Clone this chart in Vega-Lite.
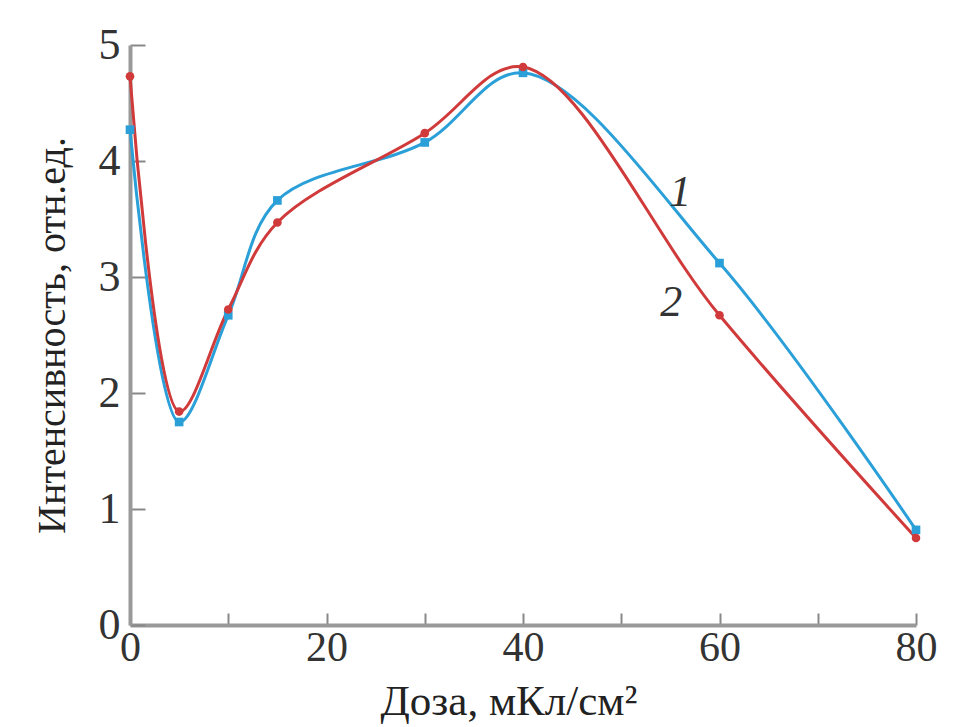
{
  "$schema": "https://vega.github.io/schema/vega-lite/v6.json",
  "width": 786,
  "height": 580,
  "autosize": "none",
  "padding": {"left": 130, "top": 45, "right": 37, "bottom": 102},
  "background": "white",
  "config": {
    "view": {"stroke": null},
    "font": "Liberation Serif"
  },
  "datasets": {
    "series": [
      {"dose": 0, "val": 4.27, "s": "1"},
      {"dose": 5, "val": 1.75, "s": "1"},
      {"dose": 10, "val": 2.67, "s": "1"},
      {"dose": 15, "val": 3.66, "s": "1"},
      {"dose": 30, "val": 4.16, "s": "1"},
      {"dose": 40, "val": 4.76, "s": "1"},
      {"dose": 60, "val": 3.12, "s": "1"},
      {"dose": 80, "val": 0.82, "s": "1"},
      {"dose": 0, "val": 4.73, "s": "2"},
      {"dose": 5, "val": 1.84, "s": "2"},
      {"dose": 10, "val": 2.72, "s": "2"},
      {"dose": 15, "val": 3.47, "s": "2"},
      {"dose": 30, "val": 4.24, "s": "2"},
      {"dose": 40, "val": 4.81, "s": "2"},
      {"dose": 60, "val": 2.67, "s": "2"},
      {"dose": 80, "val": 0.75, "s": "2"}
    ],
    "labels": [
      {"dose": 56, "val": 3.72, "t": "1"},
      {"dose": 55.1, "val": 2.78, "t": "2"}
    ]
  },
  "layer": [
    {
      "data": {"name": "series"},
      "mark": {"type": "line", "interpolate": "catmull-rom", "strokeWidth": 3},
      "encoding": {
        "x": {
          "field": "dose", "type": "quantitative",
          "scale": {"domain": [0, 80], "nice": false},
          "axis": {
            "title": "Доза, мКл/см²",
            "values": [0, 10, 20, 30, 40, 50, 60, 70, 80],
            "labelExpr": "datum.value % 20 === 0 ? datum.label : ''",
            "labelFlush": false,
            "grid": false,
            "domainColor": "#999", "domainWidth": 4,
            "tickColor": "#888", "tickWidth": 2, "tickSize": -12,
            "labelFont": "Liberation Serif", "labelFontSize": 42, "labelColor": "#333",
            "labelPadding": 14,
            "titleFont": "Liberation Serif", "titleFontSize": 43, "titleFontWeight": "normal", "titleColor": "#222",
            "titlePadding": 12,
            "titleX": 250,
            "titleAlign": "left"
          }
        },
        "y": {
          "field": "val", "type": "quantitative",
          "scale": {"domain": [0, 5], "nice": false},
          "axis": {
            "title": "Интенсивность, отн.ед.",
            "values": [0, 1, 2, 3, 4, 5],
            "format": "d",
            "labelFlush": false,
            "grid": false,
            "domainColor": "#999", "domainWidth": 4,
            "tickColor": "#888", "tickWidth": 2, "tickSize": -15,
            "labelFont": "Liberation Serif", "labelFontSize": 44, "labelColor": "#333",
            "labelPadding": 25,
            "titleFont": "Liberation Serif", "titleFontSize": 40, "titleFontWeight": "normal", "titleColor": "#222",
            "titlePadding": 26
          }
        },
        "color": {
          "field": "s", "type": "nominal",
          "scale": {"domain": ["1", "2"], "range": ["#2a9fd8", "#d03a3a"]},
          "legend": null
        }
      }
    },
    {
      "data": {"name": "series"},
      "mark": {"type": "point", "filled": true, "size": 75, "opacity": 1},
      "encoding": {
        "x": {"field": "dose", "type": "quantitative"},
        "y": {"field": "val", "type": "quantitative"},
        "color": {
          "field": "s", "type": "nominal",
          "scale": {"domain": ["1", "2"], "range": ["#1f78c8", "#d42030"]},
          "legend": null
        },
        "shape": {
          "field": "s", "type": "nominal",
          "scale": {"domain": ["1", "2"], "range": ["square", "circle"]},
          "legend": null
        }
      }
    },
    {
      "data": {"name": "labels"},
      "mark": {"type": "text", "font": "Liberation Serif", "fontStyle": "italic", "fontSize": 44, "color": "#333"},
      "encoding": {
        "x": {"field": "dose", "type": "quantitative"},
        "y": {"field": "val", "type": "quantitative"},
        "text": {"field": "t"}
      }
    }
  ]
}
